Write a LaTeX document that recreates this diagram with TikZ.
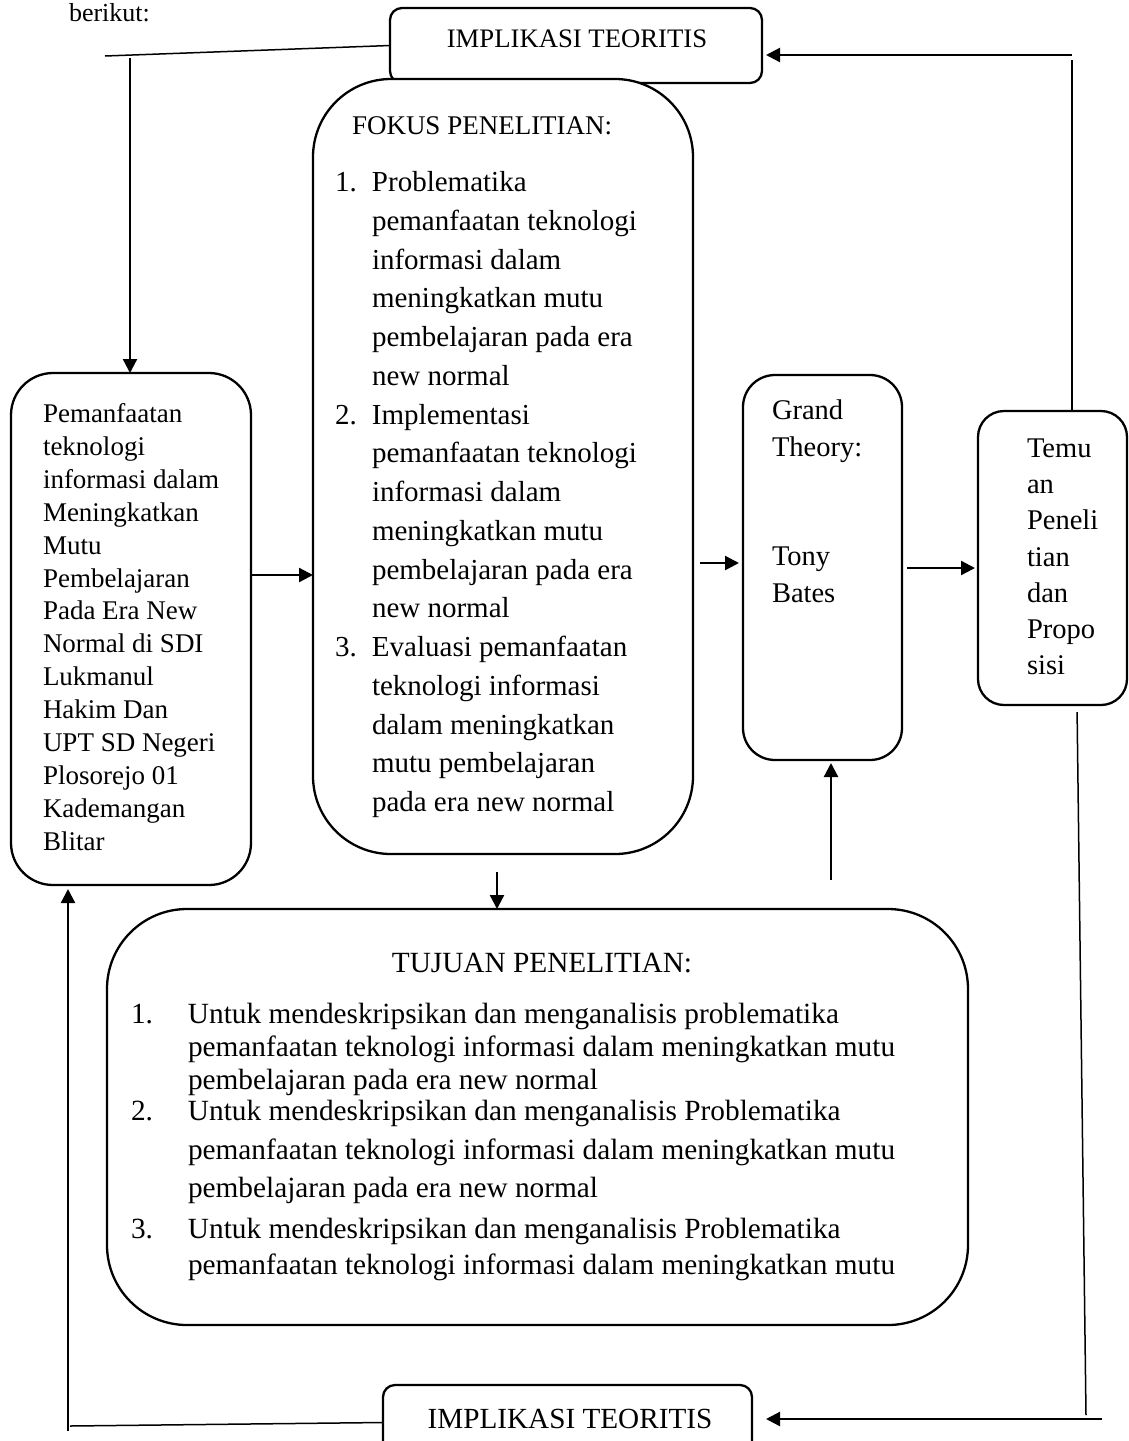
\documentclass[tikz,border=0pt]{standalone}
\usepackage{fontspec}
\setmainfont{Liberation Serif}
\usetikzlibrary{arrows.meta,calc}
\begin{document}
\begin{tikzpicture}[x=1pt,y=-1pt,
  box/.style={draw,line width=2.3pt,fill=white,rounded corners=#1,inner sep=0pt,outer sep=0pt},
  box/.default=12pt,
  arr/.style={line width=2.3pt,-{Triangle[length=14pt,width=14pt]}},
  thinline/.style={line width=1.5pt},
  txt/.style={inner sep=0pt,outer sep=0pt,align=left,anchor=north west},
  lbl/.style={inner sep=0pt,outer sep=0pt}]
\useasboundingbox (0,0) rectangle (1128,1441);
\fill[white] (0,0) rectangle (1128,1441);
\clip (0,0) rectangle (1128,1441);

% text above
\node[lbl,anchor=base west,font=\fontsize{26}{32}\selectfont] (berikut) at (69,21) {berikut:};

% boxes
\node[box=12pt,minimum width=372pt,minimum height=75pt] (top) at (576,45.5) {};
\node[box=42pt,minimum width=240pt,minimum height=512pt] (left) at (131,629) {};
\node[box=32pt,minimum width=159pt,minimum height=385pt] (grand) at (822.5,567.5) {};
\node[box=26pt,minimum width=149pt,minimum height=294pt] (temuan) at (1052.5,558) {};
\node[box=80pt,minimum width=861pt,minimum height=416pt] (tujuan) at (537.5,1117) {};
\node[box=12pt,minimum width=369pt,minimum height=75pt] (bot) at (567.5,1422.5) {};
\node[box=78pt,minimum width=380pt,minimum height=775pt] (fokus) at (503,466.5) {};

% texts
\node[lbl,anchor=base,font=\fontsize{26.7}{32}\selectfont] (toptext) at (577,47) {IMPLIKASI TEORITIS};
\node[lbl,anchor=base,font=\fontsize{29.2}{35}\selectfont] (bottext) at (570,1428) {IMPLIKASI TEORITIS};

\node[txt,font=\fontsize{27}{32.9}\selectfont] (lefttext) at (43,399.5)
 {\strut Pemanfaatan\\teknologi\\informasi dalam\\Meningkatkan\\Mutu\\Pembelajaran\\Pada Era New\\Normal di SDI\\Lukmanul\\Hakim Dan\\UPT SD Negeri\\Plosorejo 01\\Kademangan\\Blitar};

\node[lbl,anchor=base west,font=\fontsize{27}{32}\selectfont] (fokustitle) at (352,134.5) {FOKUS PENELITIAN:};
\node[txt,font=\fontsize{29}{38.75}\selectfont] (fokustext) at (335,164.4)
 {\strut\makebox[37pt][l]{1.}Problematika\\
  \hspace*{37pt}pemanfaatan teknologi\\
  \hspace*{37pt}informasi dalam\\
  \hspace*{37pt}meningkatkan mutu\\
  \hspace*{37pt}pembelajaran pada era\\
  \hspace*{37pt}new normal\\
  \makebox[37pt][l]{2.}Implementasi\\
  \hspace*{37pt}pemanfaatan teknologi\\
  \hspace*{37pt}informasi dalam\\
  \hspace*{37pt}meningkatkan mutu\\
  \hspace*{37pt}pembelajaran pada era\\
  \hspace*{37pt}new normal\\
  \makebox[37pt][l]{3.}Evaluasi pemanfaatan\\
  \hspace*{37pt}teknologi informasi\\
  \hspace*{37pt}dalam meningkatkan\\
  \hspace*{37pt}mutu pembelajaran\\
  \hspace*{37pt}pada era new normal};

\node[txt,font=\fontsize{28.5}{36.5}\selectfont] (grandtext) at (772,394)
 {\strut Grand\\Theory:\\\strut\\\strut\\Tony\\Bates};

\node[txt,font=\fontsize{28.5}{36.2}\selectfont] (temuantext) at (1027,432.2)
 {\strut Temu\\an\\Peneli\\tian\\dan\\Propo\\sisi};

\node[lbl,anchor=base,font=\fontsize{29.3}{35}\selectfont] (tujuantitle) at (542,972) {TUJUAN PENELITIAN:};
\node[txt,font=\fontsize{29.3}{33}\selectfont] (tj1) at (131,999.9)
 {\strut\makebox[57pt][l]{1.}Untuk mendeskripsikan dan menganalisis problematika\\
  \hspace*{57pt}pemanfaatan teknologi informasi dalam meningkatkan mutu\\
  \hspace*{57pt}pembelajaran pada era new normal};
\node[txt,font=\fontsize{29.3}{38.5}\selectfont] (tj2) at (131,1094)
 {\strut\makebox[57pt][l]{2.}Untuk mendeskripsikan dan menganalisis Problematika\\
  \hspace*{57pt}pemanfaatan teknologi informasi dalam meningkatkan mutu\\
  \hspace*{57pt}pembelajaran pada era new normal};
\node[txt,font=\fontsize{29.3}{36}\selectfont] (tj3) at (131,1212.8)
 {\strut\makebox[57pt][l]{3.}Untuk mendeskripsikan dan menganalisis Problematika\\
  \hspace*{57pt}pemanfaatan teknologi informasi dalam meningkatkan mutu};

% helper coordinates
\coordinate (tl1) at (105,56);
\coordinate (tl2) at (130,58);
\coordinate (tr1) at (1072,60);
\coordinate (tr2) at (1072,55);
\coordinate (yA) at (0,575);
\coordinate (yB) at (0,563);
\coordinate (yC) at (0,568);
\coordinate (xD) at (497,0);
\coordinate (xE) at (831,0);
\coordinate (xF) at (1077,0);
\coordinate (br1) at (1086,1415);
\coordinate (br2) at (1102,1419);
\coordinate (bl1) at (70,1426);
\coordinate (bl2) at (68,1431);

% connectors
\draw[thinline] (top.west) -- (tl1);
\draw[arr] (tl2) -- (tl2 |- left.north);
\draw[thinline] (tr1 |- temuan.north) -- (tr1);
\draw[arr,shorten >=4pt] (tr2) -- (tr2 -| top.east);
\draw[arr] (left.east |- yA) -- (fokus.west |- yA);
\draw[arr,shorten <=7pt,shorten >=4pt] (fokus.east |- yB) -- (grand.west |- yB);
\draw[arr,shorten <=5pt,shorten >=3pt] (grand.east |- yC) -- (temuan.west |- yC);
\draw[arr,shorten <=18pt] (xD |- fokus.south) -- (xD |- tujuan.north);
\draw[arr,shorten <=29pt,shorten >=3pt] (xE |- tujuan.north) -- (xE |- grand.south);
\draw[thinline,shorten <=7pt] (xF |- temuan.south) -- (br1);
\draw[arr,shorten >=14pt] (br2) -- (br2 -| bot.east);
\draw[thinline] (bot.west) -- (bl1);
\draw[arr,shorten >=4pt] (bl2) -- (bl2 |- left.south);
\end{tikzpicture}
\end{document}
